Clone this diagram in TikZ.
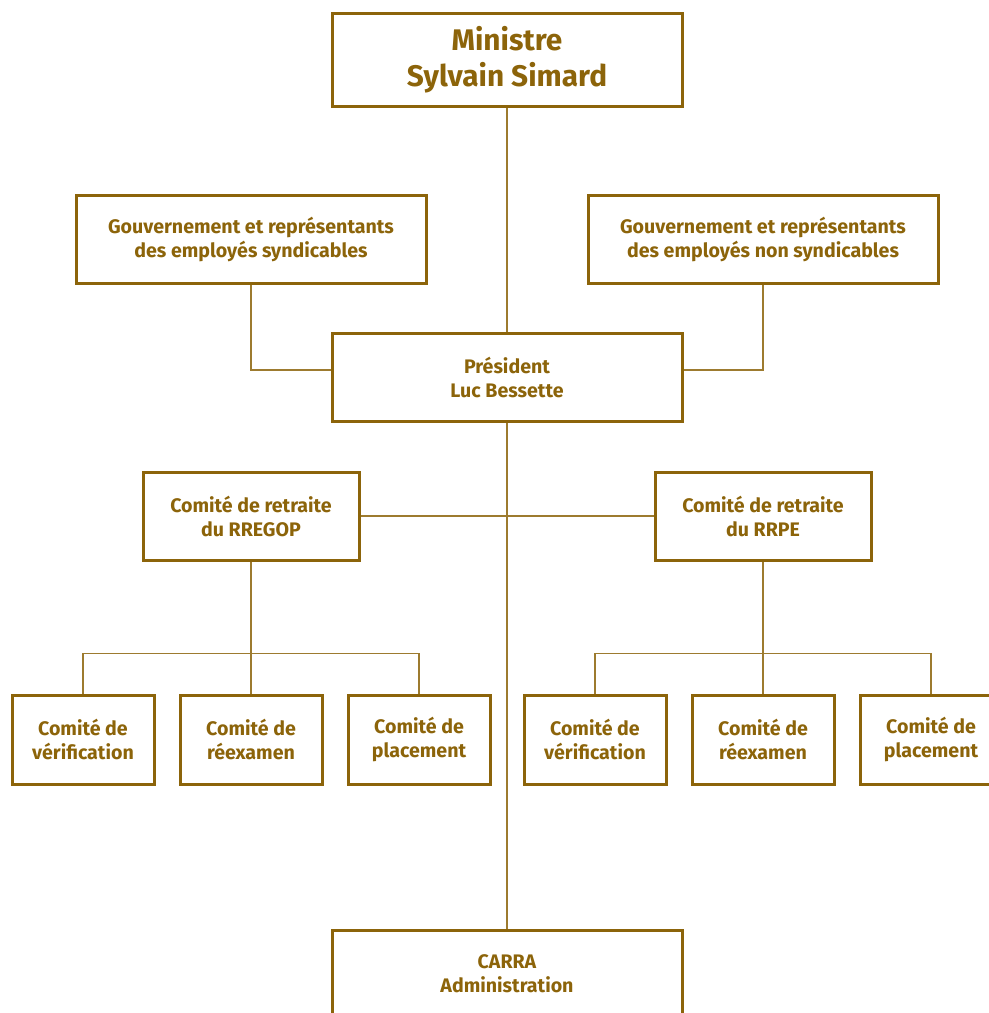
\documentclass[tikz,border=0pt]{standalone}
\usepackage{fontspec}
\setmainfont{Fira Sans}
\usepackage{tikz}
\usetikzlibrary{positioning,calc}
\definecolor{carraor}{RGB}{140,100,10}
\tikzset{
  boite/.style={
    draw=carraor,
    line width=1.5pt,
    text=carraor,
    font=\bfseries\fontsize{9.8}{12}\selectfont,
    align=center,
    inner sep=0pt
  },
  grande/.style={
    boite,
    minimum width=175pt,
    minimum height=44pt
  },
  moyenne/.style={
    boite,
    minimum width=108pt,
    minimum height=44pt
  },
  petite/.style={
    boite,
    minimum width=71pt,
    minimum height=44.5pt
  },
  lien/.style={
    draw=carraor!85,
    line width=0.75pt
  }
}
\begin{document}
\begin{tikzpicture}[x=0.5pt,y=-0.5pt]
        \useasboundingbox (0,0) rectangle (989,1013);
        % boites du haut
        \node[grande, minimum height=46.5pt, font=\bfseries\fontsize{14.9}{18}\selectfont] (ministre) at (507,59.5) {Ministre\\Sylvain Simard};
        \node[grande] (gouvS) at (251,239) {Gouvernement et représentants\\des employés syndicables};
        \node[grande] (gouvN) at (763,239) {Gouvernement et représentants\\des employés non syndicables};
        \node[grande] (president) at (507,377) {Président\\Luc Bessette};
        % comites de retraite
        \node[moyenne] (rregop) at (251,516) {Comité de retraite\\du RREGOP};
        \node[moyenne] (rrpe) at (763,516) {Comité de retraite\\du RRPE};
        % sous-comites
        \node[petite] (verifG) at (83,739.5) {Comité de\\vérification};
        \node[petite] (reexG) at (251,739.5) {Comité de\\réexamen};
        \node[petite] (placG) at (419,739.5) {Comité de\\placement};
        \node[petite] (verifD) at (595,739.5) {Comité de\\vérification};
        \node[petite] (reexD) at (763,739.5) {Comité de\\réexamen};
        \node[petite] (placD) at (931,739.5) {Comité de\\placement};
        \node[grande] (carra) at (507,974) {CARRA\\Administration};
        % liens
        \draw[lien] (ministre.south) -- (president.north);
        \draw[lien] (gouvS.south) |- ($(president.west)+(0,-7)$);
        \draw[lien] (gouvN.south) |- ($(president.east)+(0,-7)$);
        \draw[lien] (president.south) -- (carra.north);
        \draw[lien] (rregop.east) -- (rrpe.west);
        \draw[lien] (rregop.south) -- (reexG.north);
        \draw[lien] (verifG.north) |- ($(reexG.north)+(0,-40)$) -| (placG.north);
        \draw[lien] (rrpe.south) -- (reexD.north);
        \draw[lien] (verifD.north) |- ($(reexD.north)+(0,-40)$) -| (placD.north);
\end{tikzpicture}
\end{document}
